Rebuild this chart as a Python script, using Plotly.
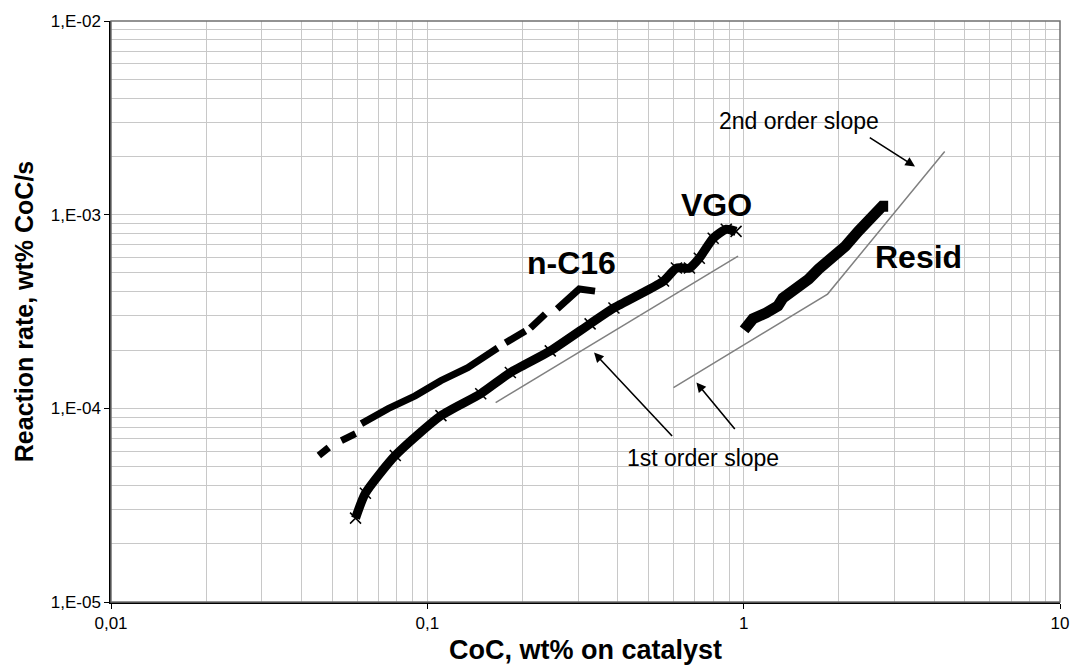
import math
import plotly.graph_objects as go

# ---------------- data ----------------
vgo_x = [0.0593, 0.0637, 0.0792, 0.1104, 0.1475, 0.183, 0.2447, 0.327, 0.389,
         0.558, 0.613, 0.674, 0.724, 0.801, 0.881, 0.946]
vgo_y = [2.71e-5, 3.64e-5, 5.71e-5, 9.17e-5, 1.19e-4, 1.53e-4, 1.98e-4, 2.73e-4, 3.30e-4,
         4.54e-4, 5.30e-4, 5.30e-4, 5.96e-4, 7.56e-4, 8.41e-4, 8.2e-4]

nc16_x = [0.0454, 0.0488, None, 0.0535, 0.0593, None, 0.0619, 0.0752, 0.0915, 0.1104,
          0.1342, 0.1668, None, 0.1767, 0.2042, None, 0.2118, 0.236, None,
          0.2574, 0.287, 0.302, 0.339]
nc16_y = [5.71e-5, 6.28e-5, None, 6.82e-5, 7.41e-5, None, 8.34e-5, 9.97e-5, 1.16e-4, 1.39e-4,
          1.62e-4, 2.05e-4, None, 2.18e-4, 2.51e-4, None, 2.60e-4, 3.07e-4, None,
          3.26e-4, 3.80e-4, 4.13e-4, 4.03e-4]

resid_x = [1.003, 1.070, 1.177, 1.283, 1.330, 1.461, 1.605, 1.725, 1.855, 2.098,
           2.305, 2.55, 2.742, 2.863]
resid_y = [2.54e-4, 2.90e-4, 3.11e-4, 3.38e-4, 3.71e-4, 4.13e-4, 4.65e-4, 5.24e-4,
           5.76e-4, 6.88e-4, 8.21e-4, 9.81e-4, 1.105e-3, 1.105e-3]

slope1_vgo_x = [0.1644, 0.960]
slope1_vgo_y = [1.07e-4, 6.11e-4]
slope_resid_x = [0.600, 1.842, 4.32]
slope_resid_y = [1.28e-4, 3.89e-4, 2.12e-3]

x_tickvals = [0.01, 0.1, 1, 10]
x_ticktext = ["0,01", "0,1", "1", "10"]
y_tickvals = [1e-5, 1e-4, 1e-3, 1e-2]
y_ticktext = ["1,E-05", "1,E-04", "1,E-03", "1,E-02"]

series_labels = ["n-C16", "VGO", "Resid"]
series_label_x = [0.285, 0.819, 3.56]
series_label_y = [5.62e-4, 1.12e-3, 6.03e-4]

note_texts = ["1st order slope", "2nd order slope"]
note_x = [0.746, 1.493]
note_y = [5.51e-5, 3.03e-3]

# arrows: (head_x, head_y, tail_x, tail_y)
arrows = [
    (0.3365, 1.94e-4, 0.600, 7.07e-5),
    (0.709, 1.36e-4, 0.946, 7.68e-5),
    (3.48, 1.775e-3, 2.477, 2.53e-3),
]

FONT = "Liberation Sans, Arial, sans-serif"
GRID = "#c8c8c8"

fig = go.Figure()

fig.add_trace(go.Scatter(x=slope1_vgo_x, y=slope1_vgo_y, mode="lines",
                         line=dict(color="#808080", width=1.5), showlegend=False))
fig.add_trace(go.Scatter(x=slope_resid_x, y=slope_resid_y, mode="lines",
                         line=dict(color="#808080", width=1.5), showlegend=False))

fig.add_trace(go.Scatter(x=nc16_x, y=nc16_y, mode="lines", connectgaps=False,
                         line=dict(color="black", width=7), showlegend=False))
fig.add_trace(go.Scatter(x=vgo_x, y=vgo_y, mode="lines+markers",
                         line=dict(color="black", width=9, shape="spline", smoothing=0.6),
                         marker=dict(symbol="x-thin", size=11, line=dict(color="black", width=1.5)),
                         showlegend=False))
fig.add_trace(go.Scatter(x=resid_x, y=resid_y, mode="lines",
                         line=dict(color="black", width=11),
                         showlegend=False))

annotations = []
for t, xv, yv in zip(series_labels, series_label_x, series_label_y):
    annotations.append(dict(x=math.log10(xv), y=math.log10(yv), xref="x", yref="y",
                            text=t, showarrow=False,
                            font=dict(family=FONT, size=32, color="black", weight="bold")))
for t, xv, yv in zip(note_texts, note_x, note_y):
    annotations.append(dict(x=math.log10(xv), y=math.log10(yv), xref="x", yref="y",
                            text=t, showarrow=False,
                            font=dict(family=FONT, size=23, color="black")))
for hx, hy, tx, ty in arrows:
    annotations.append(dict(x=math.log10(hx), y=math.log10(hy), xref="x", yref="y",
                            ax=math.log10(tx), ay=math.log10(ty), axref="x", ayref="y",
                            text="", showarrow=True, arrowhead=2, arrowsize=1.2,
                            arrowwidth=1.6, arrowcolor="black"))

fig.update_layout(
    width=1081, height=672,
    margin=dict(l=111, r=15, t=19, b=70),
    paper_bgcolor="white", plot_bgcolor="white",
    font=dict(family=FONT, color="black"),
    annotations=annotations,
    shapes=[dict(type="rect", xref="paper", yref="paper", x0=0, y0=0, x1=1, y1=1,
                 line=dict(color="#707070", width=1.5), layer="above")],
)

fig.update_xaxes(
    type="log", range=[-2, 1],
    tickvals=x_tickvals, ticktext=x_ticktext,
    tickfont=dict(family=FONT, size=17, color="black"),
    ticks="outside", ticklen=5, tickcolor="black",
    showgrid=True, gridcolor=GRID, gridwidth=1,
    minor=dict(dtick="D1", showgrid=True, gridcolor=GRID, gridwidth=1, ticks=""),
    showline=True, linecolor="black", linewidth=1.5,
    zeroline=False,
    title=dict(text="CoC, wt% on catalyst", standoff=8,
               font=dict(family=FONT, size=27, color="black", weight="bold")),
)
fig.update_yaxes(
    type="log", range=[-5, -2],
    tickvals=y_tickvals, ticktext=y_ticktext,
    tickfont=dict(family=FONT, size=17, color="black"),
    ticks="outside", ticklen=5, tickcolor="black",
    showgrid=True, gridcolor=GRID, gridwidth=1,
    minor=dict(dtick="D1", showgrid=True, gridcolor=GRID, gridwidth=1, ticks=""),
    showline=True, linecolor="black", linewidth=1.5,
    zeroline=False,
    title=dict(text="Reaction rate, wt% CoC/s", standoff=10,
               font=dict(family=FONT, size=25, color="black", weight="bold")),
)

fig.write_html(
    "out.html",
    config={"displayModeBar": False},
    post_script="document.body.style.margin='0';document.body.style.overflow='hidden';",
)
